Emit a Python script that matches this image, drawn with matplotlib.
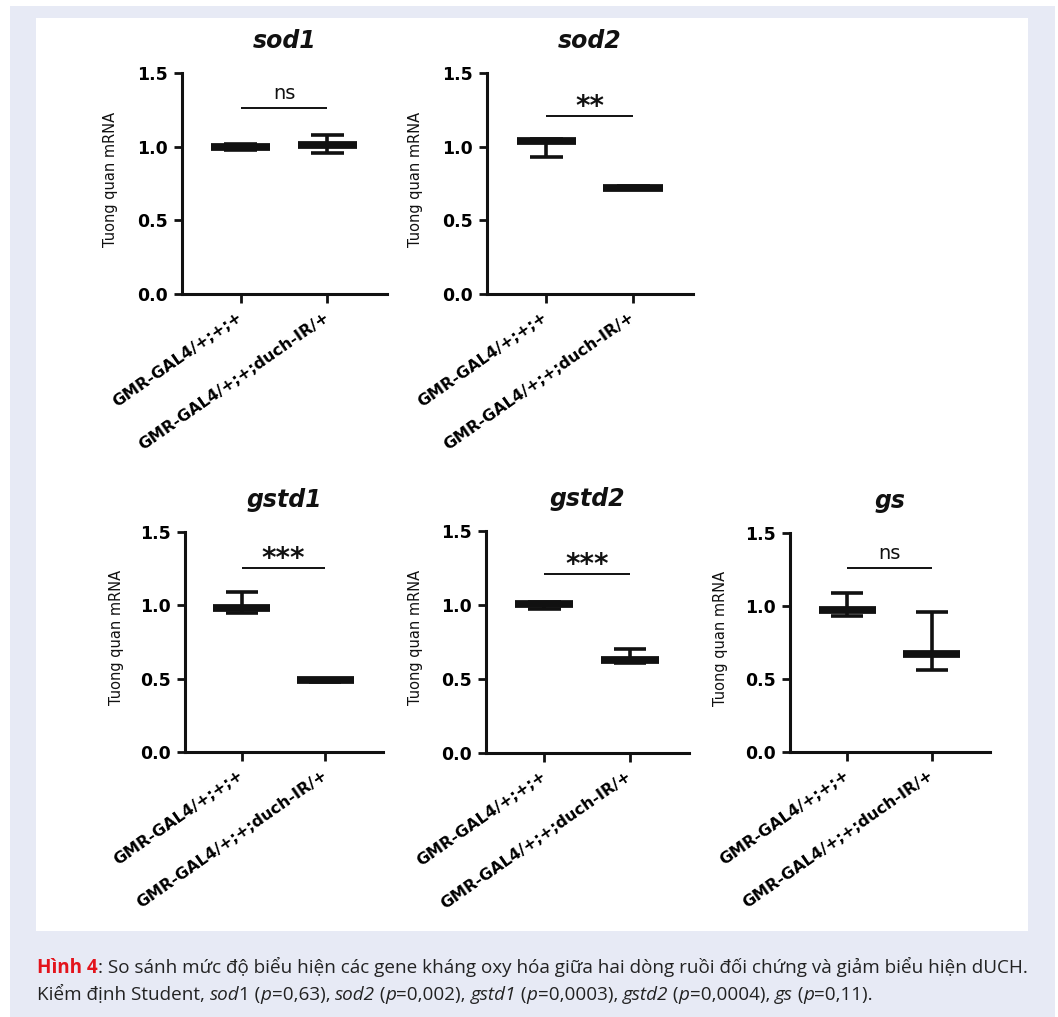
import matplotlib
matplotlib.use('Agg')
import matplotlib.pyplot as plt
from matplotlib.patches import Rectangle

# ---------------- data ----------------
genes = ['sod1', 'sod2', 'gstd1', 'gstd2', 'gs']
groups = ['GMR-GAL4/+;+;+', 'GMR-GAL4/+;+;duch-IR/+']
ctrl_mean = [1.00, 1.04, 0.98, 1.01, 0.97]
ctrl_low = [0.98, 0.93, 0.95, 0.97, 0.93]
ctrl_high = [1.02, 1.05, 1.09, 1.02, 1.09]
kd_mean = [1.01, 0.72, 0.49, 0.63, 0.67]
kd_low = [0.96, 0.71, 0.48, 0.61, 0.56]
kd_high = [1.08, 0.73, 0.50, 0.70, 0.96]
sig_labels = ['ns', '**', '***', '***', 'ns']
sig_y = [1.26, 1.21, 1.255, 1.21, 1.26]
y_ticks = [0.0, 0.5, 1.0, 1.5]
y_label = 'Tuong quan mRNA'

W, H = 1058, 1017
fig = plt.figure(figsize=(W / 100, H / 100), dpi=100, facecolor='white')

# background panels
fig.patches.append(Rectangle((10 / W, 0), (1055 - 10) / W, (1017 - 6) / H,
                             transform=fig.transFigure, facecolor='#e7eaf5',
                             edgecolor='none', zorder=-10))
fig.patches.append(Rectangle((36 / W, 1 - 931 / H), (1028 - 36) / W, (931 - 18) / H,
                             transform=fig.transFigure, facecolor='white',
                             edgecolor='none', zorder=-9))

# axes boxes in pixels: left, right, top, bottom
boxes = [(182, 387, 73, 294), (487, 693, 73, 294), (185, 383, 532, 752),
         (486, 689, 531, 753), (790, 990, 533, 752)]

ink = '#111111'
mean_hw, cap_hw = 0.34, 0.19

for i, g in enumerate(genes):
    l, r, t, b = boxes[i]
    ax = fig.add_axes([l / W, 1 - b / H, (r - l) / W, (b - t) / H])
    ax.set_facecolor('none')
    ax.set_xlim(-0.68, 1.69)
    ax.set_ylim(0, 1.5)
    for s in ['top', 'right']:
        ax.spines[s].set_visible(False)
    for s in ['left', 'bottom']:
        ax.spines[s].set_linewidth(2.2)
        ax.spines[s].set_color(ink)
        ax.spines[s].set_capstyle('projecting')
    ax.set_yticks(y_ticks)
    ax.set_yticklabels([f'{v:.1f}' for v in y_ticks],
                       fontdict=dict(family='DejaVu Sans', weight='bold', size=12.5))
    ax.set_xticks([0, 1])
    ax.set_xticklabels(groups, rotation=35, ha='right', va='center',
                       rotation_mode='anchor',
                       fontdict=dict(family='DejaVu Sans', weight='bold', size=11.5))
    ax.tick_params(axis='y', length=6, width=2, color=ink, pad=4)
    ax.tick_params(axis='x', length=6.5, width=2, color=ink, pad=9)

    means = [ctrl_mean[i], kd_mean[i]]
    lows = [ctrl_low[i], kd_low[i]]
    highs = [ctrl_high[i], kd_high[i]]
    for x, m, lo, hi in zip([0, 1], means, lows, highs):
        ax.vlines(x, lo, hi, color=ink, lw=2.6, zorder=3)
        ax.hlines([lo, hi], x - cap_hw, x + cap_hw, color=ink, lw=2.6, zorder=3)
        ax.hlines(m, x - mean_hw, x + mean_hw, color=ink, lw=5.6, zorder=4)

    ax.hlines(sig_y[i], 0, 1, color=ink, lw=1.4)
    if sig_labels[i] == 'ns':
        ax.text(0.5, sig_y[i] + 0.065, 'ns', ha='center', va='baseline',
                family='DejaVu Sans', size=14, color=ink)
    else:
        ax.text(0.5, sig_y[i] + 0.005, sig_labels[i], ha='center', va='baseline',
                family='DejaVu Sans', weight='bold', size=20, color=ink)

    ax.set_title(g, family='DejaVu Sans', weight='bold', style='italic',
                 size=17, pad=18, color=ink)
    ax.set_ylabel(y_label, family='DejaVu Sans', size=10.5, color=ink)
    ax.yaxis.set_label_coords(-0.31, 0.52)

# ---------------- caption ----------------
renderer = fig.canvas.get_renderer()
cap_family = ['Open Sans', 'Noto Sans', 'DejaVu Sans']
red = '#e3141c'
txt = '#222222'


def props(style, size):
    p = dict(family=cap_family, size=size, color=txt)
    if style == 'b':
        p.update(weight='bold', color=red)
    elif style == 'i':
        p.update(style='italic')
    return p


def width(s, style, size):
    a = fig.text(0, 0, '|' + s + '|', **props(style, size))
    w1 = a.get_window_extent(renderer).width
    a.remove()
    b_ = fig.text(0, 0, '||', **props(style, size))
    w2 = b_.get_window_extent(renderer).width
    b_.remove()
    return w1 - w2


line1 = [('Hình 4', 'b'),
         (': So sánh mức độ biểu hiện các gene kháng oxy hóa giữa hai dòng ruồi đối chứng và giảm biểu hiện dUCH.', 'n')]
line2 = [('Kiểm định Student, ', 'n'), ('sod', 'i'), ('1 (', 'n'), ('p', 'i'), ('=0,63), ', 'n'),
         ('sod2', 'i'), (' (', 'n'), ('p', 'i'), ('=0,002), ', 'n'),
         ('gstd1', 'i'), (' (', 'n'), ('p', 'i'), ('=0,0003), ', 'n'),
         ('gstd2', 'i'), (' (', 'n'), ('p', 'i'), ('=0,0004), ', 'n'),
         ('gs', 'i'), (' (', 'n'), ('p', 'i'), ('=0,11).', 'n')]

base = 12
w_line1 = sum(width(s, st, base) for s, st in line1)
cap_size = base * 990 / w_line1


def draw_runs(x0, y, runs, size):
    x = x0
    for s, st in runs:
        fig.text(x / W, 1 - y / H, s, ha='left', va='baseline', **props(st, size))
        x += width(s, st, size)


draw_runs(37, 973, line1, cap_size)
draw_runs(37, 1000, line2, cap_size)

fig.savefig('out.png', dpi=100, facecolor=fig.get_facecolor())
